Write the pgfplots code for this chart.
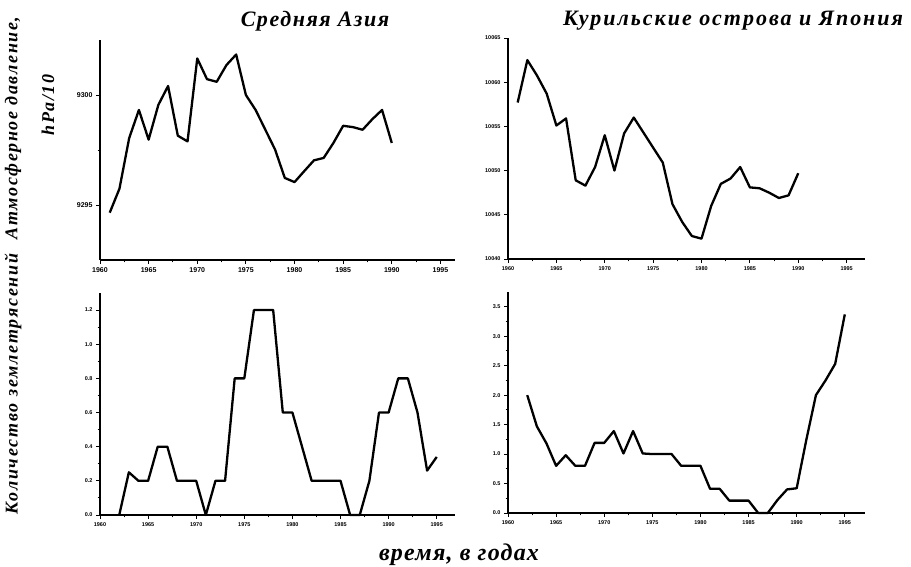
\documentclass[border=0pt]{standalone}
\usepackage{fontspec}
\setmainfont{Liberation Serif}
\setsansfont{Liberation Sans}
\usepackage{pgfplots}
\pgfplotsset{compat=1.18}

\pgfplotsset{
  panel/.style={
    scale only axis, anchor=south west,
    axis lines*=left,
    axis line style={line width=1.3pt},
    every tick/.style={black, line width=0.9pt},
    major tick length=4pt, minor tick length=2.5pt,
    tick align=outside,
    xmin=1960, xtick={1960,1965,...,1995},
    minor x tick num=1,
    scaled ticks=false,
    /pgf/number format/1000 sep={},
    /pgf/number format/assume math mode=true,
    ticklabel style={font=\sffamily\bfseries\fontsize{5.5}{5.5}\selectfont},
    clip=false,
  },
  curve/.style={black, line width=2.3pt, line join=round, no marks},
}
\newcommand\lbl[2]{\fontsize{#1}{#1}\selectfont\bfseries\itshape\addfontfeatures{LetterSpace=#2}}

\begin{document}
\begin{tikzpicture}
\useasboundingbox (0pt,0pt) rectangle (911pt,567pt);

% Средняя Азия, давление
\begin{axis}[panel, at={(100pt,307pt)}, width=355pt, height=220pt,
  xmax=1996.5, ymin=9292.5, ymax=9302.5, ytick={9295,9300}, minor y tick num=1,
  ticklabel style={font=\sffamily\bfseries\fontsize{7}{7}\selectfont}]
\addplot[curve] coordinates {
  (1961,9294.65) (1962,9295.74) (1963,9298.04) (1964,9299.32) (1965,9297.97)
  (1966,9299.55) (1967,9300.41) (1968,9298.15) (1969,9297.89) (1970,9301.66)
  (1971,9300.72) (1972,9300.60) (1973,9301.36) (1974,9301.84) (1975,9300.00)
  (1976,9299.32) (1977,9298.42) (1978,9297.52) (1979,9296.23) (1980,9296.04)
  (1981,9296.54) (1982,9297.03) (1983,9297.14) (1984,9297.82) (1985,9298.60)
  (1986,9298.54) (1987,9298.42) (1988,9298.90) (1989,9299.32) (1990,9297.82)
};
\end{axis}

% Курилы и Япония, давление
\begin{axis}[panel, at={(508pt,308pt)}, width=357pt, height=221pt,
  xmax=1996.9, ymin=10040, ymax=10065, ytick={10040,10045,...,10065},
  yticklabel style={/pgf/number format/fixed, /pgf/number format/precision=0}]
\addplot[curve] coordinates {
  (1961,10057.7) (1962,10062.5) (1963,10060.75) (1964,10058.7) (1965,10055.1)
  (1966,10055.9) (1967,10048.9) (1968,10048.3) (1969,10050.4) (1970,10054.0)
  (1971,10050.0) (1972,10054.2) (1973,10056.0) (1974,10054.3) (1975,10052.6)
  (1976,10050.9) (1977,10046.2) (1978,10044.2) (1979,10042.6) (1980,10042.3)
  (1981,10046.0) (1982,10048.5) (1983,10049.1) (1984,10050.4) (1985,10048.1)
  (1986,10048.0) (1987,10047.5) (1988,10046.9) (1989,10047.2) (1990,10049.7)
};
\end{axis}

% Средняя Азия, землетрясения
\begin{axis}[panel, at={(100pt,52pt)}, width=355pt, height=222pt,
  xmax=1996.9, ymin=0, ymax=1.3, ytick={0,0.2,...,1.2}, minor y tick num=1,
  yticklabel style={/pgf/number format/fixed, /pgf/number format/fixed zerofill,
    /pgf/number format/precision=1}]
\addplot[curve] coordinates {
  (1962,0) (1963,0.25) (1964,0.2) (1965,0.2) (1966,0.4) (1967,0.4)
  (1968,0.2) (1969,0.2) (1970,0.2) (1971,0) (1972,0.2) (1973,0.2)
  (1974,0.8) (1975,0.8) (1976,1.2) (1977,1.2) (1978,1.2) (1979,0.6)
  (1980,0.6) (1981,0.4) (1982,0.2) (1983,0.2) (1984,0.2) (1985,0.2)
  (1986,0) (1987,0) (1988,0.2) (1989,0.6) (1990,0.6) (1991,0.8)
  (1992,0.8) (1993,0.6) (1994,0.26) (1995,0.34)
};
\end{axis}

% Курилы и Япония, землетрясения
\begin{axis}[panel, at={(508pt,54pt)}, width=357pt, height=221pt,
  xmax=1997.1, ymin=0, ymax=3.75, ytick={0,0.5,...,3.5}, minor y tick num=1,
  yticklabel style={/pgf/number format/fixed, /pgf/number format/fixed zerofill,
    /pgf/number format/precision=1}]
\addplot[curve] coordinates {
  (1962,2.0) (1963,1.47) (1964,1.18) (1965,0.8) (1966,0.98) (1967,0.8)
  (1968,0.8) (1969,1.19) (1970,1.19) (1971,1.39) (1972,1.01) (1973,1.39)
  (1974,1.01) (1975,1.0) (1976,1.0) (1977,1.0) (1978,0.8) (1979,0.8)
  (1980,0.8) (1981,0.41) (1982,0.41) (1983,0.21) (1984,0.21) (1985,0.21)
  (1986,0) (1987,0) (1988,0.22) (1989,0.4) (1990,0.42) (1991,1.24)
  (1992,2.0) (1993,2.25) (1994,2.53) (1994.5,2.95) (1995,3.37)
};
\end{axis}

\node[font=\lbl{22}{7}] at (315pt,546pt) {Средняя Азия};
\node[font=\lbl{22}{9}] at (733pt,546pt) {Курильские острова и Япония};
\node[rotate=90, font=\lbl{18}{9}] at (13pt,439pt) {Атмосферное давление,};
\node[rotate=90, font=\lbl{18}{9}] at (48pt,462pt) {hPa/10};
\node[rotate=90, font=\lbl{18}{10}] at (13pt,183pt) {Количество землетрясений};
\node[font=\lbl{24}{5}] at (459pt,12pt) {время, в годах};
\end{tikzpicture}
\end{document}
